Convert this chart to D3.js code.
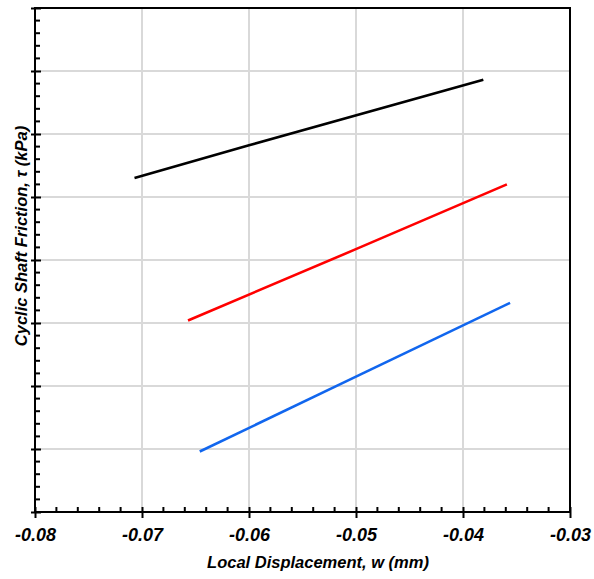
<!DOCTYPE html>
<html><head><meta charset="utf-8">
<script src="https://cdn.jsdelivr.net/npm/d3@7"></script>
<style>body{margin:0;background:#fff}svg{display:block}</style>
</head><body><div id="chart"></div>
<script>
// Data (y axis carries no numeric labels; arbitrary units 0..8)
const xTicks = [-0.08, -0.07, -0.06, -0.05, -0.04, -0.03];
const xTickLabels = ["-0.08", "-0.07", "-0.06", "-0.05", "-0.04", "-0.03"];
const yTicks = [0, 1, 2, 3, 4, 5, 6, 7, 8];
const seriesNames = ["black", "red", "blue"];
const blackX = [-0.0707, -0.0600, -0.0381];
const blackY = [5.30, 5.82, 6.86];
const redX = [-0.0657, -0.0499, -0.0359];
const redY = [3.04, 4.18, 5.20];
const blueX = [-0.0646, -0.0501, -0.0356];
const blueY = [0.96, 2.14, 3.32];
const colors = ["#000000", "#ff0000", "#1166ee"];

const W = 594, H = 579;
const m = {l: 35, r: 24, t: 8, b: 67};
const FONT = "Arial, 'Liberation Sans', sans-serif";
const svg = d3.select("#chart").append("svg").attr("width", W).attr("height", H);
const x = d3.scaleLinear().domain([-0.08, -0.03]).range([m.l, W - m.r]);
const y = d3.scaleLinear().domain([0, 8]).range([H - m.b, m.t]);

// grid
svg.append("g").selectAll("line").data(xTicks.slice(1, -1)).join("line")
  .attr("x1", d => x(d)).attr("x2", d => x(d)).attr("y1", y(0)).attr("y2", y(8))
  .attr("stroke", "#d9d9d9").attr("stroke-width", 2);
svg.append("g").selectAll("line").data(yTicks.slice(1, -1)).join("line")
  .attr("x1", x(-0.08)).attr("x2", x(-0.03)).attr("y1", d => y(d)).attr("y2", d => y(d))
  .attr("stroke", "#d9d9d9").attr("stroke-width", 2);

// series
const sx = [blackX, redX, blueX], sy = [blackY, redY, blueY];
const line = d3.line().x(d => x(d[0])).y(d => y(d[1]));
seriesNames.forEach((n, i) => {
  const pts = sx[i].map((v, j) => [v, sy[i][j]]);
  svg.append("path").datum(pts).attr("d", line).attr("fill", "none")
    .attr("stroke", colors[i]).attr("stroke-width", 2.6);
});

// frame
svg.append("rect").attr("x", x(-0.08)).attr("y", y(8)).attr("width", x(-0.03) - x(-0.08))
  .attr("height", y(0) - y(8)).attr("fill", "none").attr("stroke", "#000").attr("stroke-width", 2);

// x axis
const xMinor = d3.range(0, 26).map(i => -0.08 + i * 0.002).filter((d, i) => i % 5 !== 0);
const xAxisMajor = d3.axisBottom(x).tickValues(xTicks).tickFormat((d, i) => xTickLabels[i]).tickSizeInner(6).tickSizeOuter(0);
const gx = svg.append("g").attr("transform", `translate(0,${y(0)})`).call(xAxisMajor);
gx.select(".domain").remove();
gx.selectAll(".tick line").attr("y1", -5).attr("y2", 6).attr("stroke-width", 2);
gx.selectAll(".tick text").attr("y", 29).attr("dy", 0).attr("font-family", FONT)
  .attr("font-weight", "bold").attr("font-style", "italic").attr("font-size", 18).attr("fill", "#000");
svg.append("g").attr("transform", `translate(0,${y(0)})`).selectAll("line").data(xMinor).join("line")
  .attr("x1", d => x(d)).attr("x2", d => x(d)).attr("y1", 0).attr("y2", -5)
  .attr("stroke", "#000").attr("stroke-width", 2);

// y axis
const yMinor = d3.range(0, 41).map(i => i * 0.2).filter((d, i) => i % 5 !== 0);
const yAxisMajor = d3.axisLeft(y).tickValues(yTicks).tickFormat("").tickSizeInner(4).tickSizeOuter(0);
const gy = svg.append("g").attr("transform", `translate(${x(-0.08)},0)`).call(yAxisMajor);
gy.select(".domain").remove();
gy.selectAll(".tick line").attr("x1", -4).attr("x2", 6).attr("stroke-width", 2);
svg.append("g").attr("transform", `translate(${x(-0.08)},0)`).selectAll("line").data(yMinor).join("line")
  .attr("x1", 0).attr("x2", 5).attr("y1", d => y(d)).attr("y2", d => y(d))
  .attr("stroke", "#000").attr("stroke-width", 2);

// axis titles
svg.append("text").attr("x", 318).attr("y", 568)
  .attr("text-anchor", "middle").attr("font-family", FONT)
  .attr("font-weight", "bold").attr("font-style", "italic").attr("font-size", 16.5)
  .text("Local Displacement, w (mm)");
svg.append("text").attr("transform", `translate(27,236) rotate(-90)`)
  .attr("text-anchor", "middle").attr("font-family", FONT)
  .attr("font-weight", "bold").attr("font-style", "italic").attr("font-size", 16.5)
  .text("Cyclic Shaft Friction, τ (kPa)");
</script></body></html>
